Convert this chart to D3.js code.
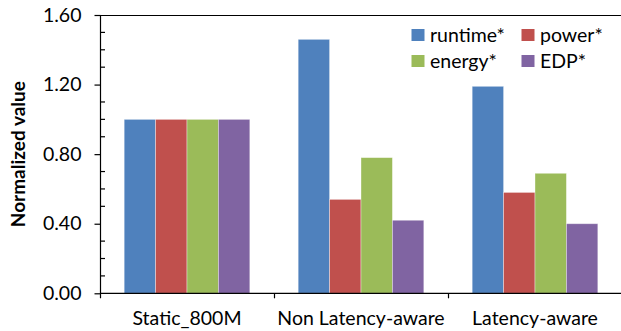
<!DOCTYPE html>
<html><head><meta charset="utf-8">
<script src="https://cdn.jsdelivr.net/npm/d3@7"></script>
<style>html,body{margin:0;padding:0;background:#fff;}svg{display:block;}</style>
</head><body>
<svg id="c" width="621" height="331"></svg>
<script>
const categories = ["Static_800M", "Non Latency-aware", "Latency-aware"];
const seriesNames = ["runtime*", "power*", "energy*", "EDP*"];
const runtime = [1.00, 1.46, 1.19];
const power = [1.00, 0.54, 0.58];
const energy = [1.00, 0.78, 0.69];
const edp = [1.00, 0.42, 0.40];
const yTicks = [0, 0.4, 0.8, 1.2, 1.6];
const colors = ["#4F81BD", "#C0504D", "#9BBB59", "#8064A2"];

(function () {
const seriesValues = [runtime, power, energy, edp];
const svg = d3.select("#c");
const pLeft = 100, pRight = 622, pTop = 15, pBottom = 293.3;
const font = "Lato, 'Open Sans', sans-serif";
const fs = 19.5;

const x0 = d3.scaleBand().domain(categories).range([pLeft, pRight]).paddingInner(0).paddingOuter(0);
const x1 = d3.scaleBand().domain(seriesNames).range([0, x0.bandwidth()]).paddingInner(0).paddingOuter(0.77);
const y = d3.scaleLinear().domain([0, 1.6]).range([pBottom, pTop]);

categories.forEach((c, ci) => {
  seriesNames.forEach((s, si) => {
    const v = seriesValues[si][ci];
    svg.append("rect")
      .attr("x", x0(c) + x1(s))
      .attr("y", y(v))
      .attr("width", x1.bandwidth())
      .attr("height", y(0) - y(v))
      .attr("fill", colors[si])
      .attr("stroke", "rgba(255,255,255,0.45)")
      .attr("stroke-width", 0.8);
  });
});

svg.append("line").attr("x1", pLeft).attr("x2", 621).attr("y1", Math.round(y(1.6)) + 0.5).attr("y2", Math.round(y(1.6)) + 0.5)
  .attr("stroke", "#000").attr("stroke-width", 1.2);

const yAxis = d3.axisLeft(y).tickValues(yTicks).tickFormat(d3.format(".2f")).tickSize(6).tickPadding(13);
const gy = svg.append("g").attr("transform", `translate(${pLeft + 0.5},0)`).call(yAxis);
gy.select(".domain").remove();
gy.selectAll(".tick line").attr("stroke", "#000").attr("stroke-width", 1.2);
gy.selectAll(".tick text").attr("font-family", font).attr("font-size", fs).attr("fill", "#000");
svg.append("line").attr("x1", pLeft + 0.5).attr("x2", pLeft + 0.5).attr("y1", pTop).attr("y2", pBottom + 5)
  .attr("stroke", "#000").attr("stroke-width", 1.2);
const minor = d3.range(0.1, 1.6, 0.1).filter(v => Math.abs(v / 0.4 - Math.round(v / 0.4)) > 1e-6);
svg.append("g").selectAll("line").data(minor).join("line")
  .attr("x1", pLeft + 0.5).attr("x2", pLeft + 5)
  .attr("y1", d => y(d)).attr("y2", d => y(d))
  .attr("stroke", "#000").attr("stroke-width", 1.2);

svg.append("line").attr("x1", pLeft).attr("x2", 621).attr("y1", pBottom).attr("y2", pBottom)
  .attr("stroke", "#000").attr("stroke-width", 1.2);
const bounds = categories.map(c => x0(c)).concat([pRight]);
svg.append("g").selectAll("line").data(bounds.slice(1, 3)).join("line")
  .attr("x1", d => d + 0.5).attr("x2", d => d + 0.5).attr("y1", pBottom).attr("y2", pBottom + 5)
  .attr("stroke", "#000").attr("stroke-width", 1.2);
svg.append("g").selectAll("text").data(categories).join("text")
  .attr("x", d => x0(d) + x0.bandwidth() / 2)
  .attr("y", 324.5)
  .attr("text-anchor", "middle")
  .attr("font-family", font).attr("font-size", fs).attr("fill", "#000")
  .text(d => d);

svg.append("text")
  .attr("transform", `translate(25,${(pTop + pBottom) / 2}) rotate(-90)`)
  .attr("text-anchor", "middle")
  .attr("font-family", font).attr("font-weight", "bold").attr("font-size", 19).attr("fill", "#000")
  .text("Normalized value");

const legPos = [[411.5, 29], [521.5, 29], [411.5, 55], [521.5, 55]];
seriesNames.forEach((s, i) => {
  const [lx, ly] = legPos[i];
  svg.append("rect").attr("x", lx).attr("y", ly).attr("width", 13).attr("height", 12).attr("fill", colors[i]);
  svg.append("text").attr("x", lx + 18.5).attr("y", ly + 13)
    .attr("font-family", font).attr("font-size", fs).attr("fill", "#000").text(s);
});
})();
</script>
</body></html>
